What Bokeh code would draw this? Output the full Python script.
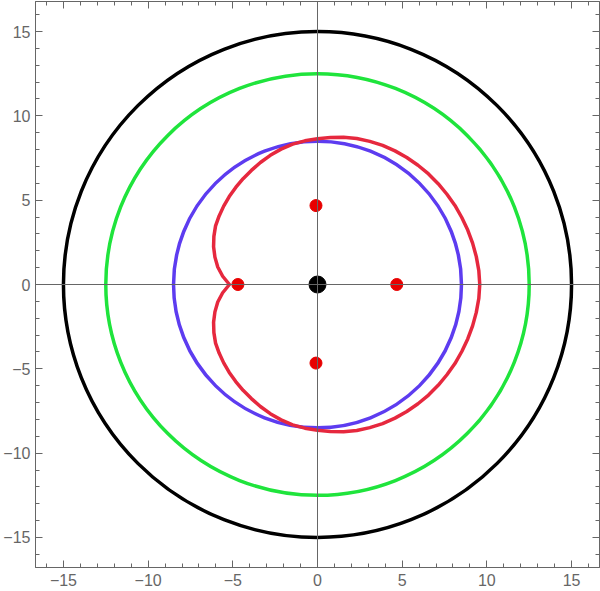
import numpy as np
from bokeh.plotting import figure
from bokeh.models import Range1d, SingleIntervalTicker, LinearAxis, Span, CustomJSTickFormatter
from bokeh.embed import file_html
from bokeh.resources import INLINE

# circles centred at origin
circle_radii = [15.0, 12.5, 8.5]
circle_colors = ["#000000", "#1fe43c", "#5d3cf0"]

# red cusped curve in polar form (angle in degrees, radius)
red_angle = [0, 5, 10, 15, 20, 25, 30, 35, 40, 45, 50, 55, 60, 65, 70, 75, 80, 85, 90,
             95, 100, 105, 110, 115, 120, 125, 130, 135, 140, 145, 150, 155, 160, 165, 170, 175, 180,
             185, 190, 195, 200, 205, 210, 215, 220, 225, 230, 235, 240, 245, 250, 255, 260, 265, 270,
             275, 280, 285, 290, 295, 300, 305, 310, 315, 320, 325, 330, 335, 340, 345, 350, 355, 360]
red_radius = [9.58, 9.56, 9.52, 9.48, 9.44, 9.40, 9.37, 9.33, 9.30, 9.27, 9.23, 9.19, 9.15, 9.10, 9.03, 8.96, 8.86, 8.75, 8.64,
              8.55, 8.45, 8.31, 8.15, 7.98, 7.81, 7.66, 7.51, 7.37, 7.23, 7.09, 6.95, 6.75, 6.53, 6.27, 5.98, 5.62, 5.20,
              5.62, 5.98, 6.27, 6.53, 6.75, 6.95, 7.09, 7.23, 7.37, 7.51, 7.66, 7.81, 7.98, 8.15, 8.31, 8.45, 8.55, 8.64,
              8.75, 8.86, 8.96, 9.03, 9.10, 9.15, 9.19, 9.23, 9.27, 9.30, 9.33, 9.37, 9.40, 9.44, 9.48, 9.52, 9.56, 9.58]

# points
pts_x = [-4.70, 4.68, -0.09, -0.09]
pts_y = [0.00, 0.00, 4.68, -4.66]
center_x = [0.0]
center_y = [0.0]

tick_interval = 5

theta = np.radians(red_angle)
red_x = np.array(red_radius) * np.cos(theta)
red_y = np.array(red_radius) * np.sin(theta)

p = figure(width=600, height=591, output_backend="svg", toolbar_location=None,
           x_range=Range1d(-16.65, 16.65), y_range=Range1d(-16.78, 16.78),
           min_border_left=34, min_border_right=1, min_border_top=1, min_border_bottom=24,
           x_axis_location=None, y_axis_location=None)
p.grid.visible = False
p.outline_line_color = "#666666"
p.background_fill_color = "white"

fmt = CustomJSTickFormatter(code="return tick < 0 ? '\\u2212' + Math.abs(tick) : tick.toString();")

def make_axis(show_labels, standoff=5):
    ax = LinearAxis(ticker=SingleIntervalTicker(interval=tick_interval, num_minor_ticks=5), formatter=fmt)
    ax.axis_line_color = "#666666"
    ax.major_tick_line_color = "#666666"
    ax.minor_tick_line_color = "#666666"
    ax.major_tick_in = 7
    ax.major_tick_out = 0
    ax.minor_tick_in = 4
    ax.minor_tick_out = 0
    ax.major_label_text_font = "Liberation Sans"
    if show_labels:
        ax.major_label_text_color = "#666666"
        ax.major_label_text_font_size = "16px"
        ax.major_label_standoff = standoff
    else:
        ax.major_label_text_color = None
        ax.major_label_text_font_size = "1px"
        ax.major_label_standoff = 0
    return ax

p.add_layout(make_axis(True, 5), "left")
p.add_layout(make_axis(True, 6), "below")
p.add_layout(make_axis(False), "above")
p.add_layout(make_axis(False), "right")

for r, c in zip(circle_radii, circle_colors):
    p.ellipse(x=[0], y=[0], width=[2 * r], height=[2 * r], fill_color=None,
              line_color=c, line_width=3.5)

p.line(red_x, red_y, line_color="#e6283e", line_width=3.5, line_join="round")

p.add_layout(Span(location=0, dimension="width", line_color="#666666", line_width=1))
p.add_layout(Span(location=0, dimension="height", line_color="#666666", line_width=1))

p.scatter(pts_x, pts_y, size=12, color="#e80000")
p.scatter(center_x, center_y, size=17, color="#000000")

open("out.html", "w").write(file_html(p, INLINE))
